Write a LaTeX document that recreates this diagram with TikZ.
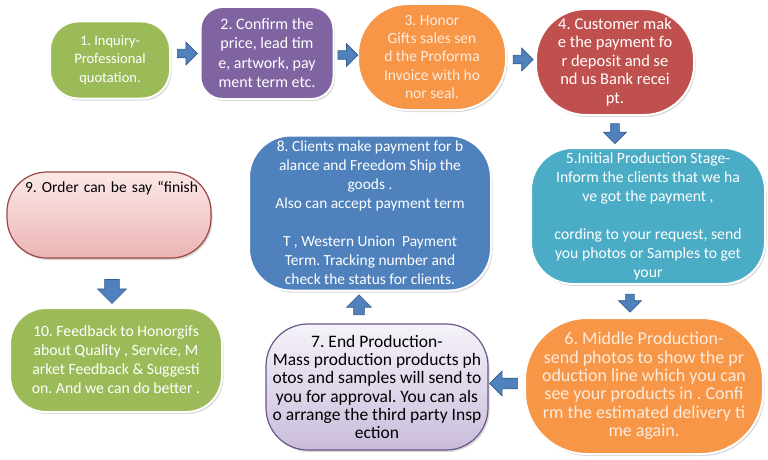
\documentclass[tikz,border=0pt]{standalone}
\usepackage{fontspec}
\setmainfont{Carlito}
\usetikzlibrary{shapes,arrows,positioning,calc,shadows}
\definecolor{stepgreen}{HTML}{9BBB59}
\definecolor{steppurple}{HTML}{8064A2}
\definecolor{steporange}{HTML}{F79646}
\definecolor{steppeach}{HTML}{FDEBDD}
\definecolor{stepred}{HTML}{C0504D}
\definecolor{stepteal}{HTML}{4BACC6}
\definecolor{stepblue}{HTML}{4F81BD}
\definecolor{arrowblue}{HTML}{4F81BD}
\definecolor{arrowedge}{HTML}{385D8A}
\definecolor{lavtop}{HTML}{F6F3FA}
\definecolor{lavbottom}{HTML}{C9BCDB}
\definecolor{lavedge}{HTML}{6A5688}
\definecolor{pinktop}{HTML}{FCE8E8}
\definecolor{pinkbottom}{HTML}{EBB5B4}
\definecolor{pinkedge}{HTML}{9A4644}

\begin{document}
\frenchspacing
\begin{tikzpicture}[x=1pt,y=-1pt,
stepbox/.style={draw=white, line width=2pt, text=white, align=center,
  inner sep=2pt,
  drop shadow={opacity=0.3,shadow xshift=1.5pt,shadow yshift=-2pt}},
flowarrow/.style={single arrow, draw=arrowedge, fill=arrowblue, line width=0.6pt,
  inner sep=4pt, minimum width=15pt, minimum height=20pt}
]
\useasboundingbox (0,0) rectangle (768,460);

% ================= TOP ROW =================
\node[stepbox, fill=stepgreen, rounded corners=28pt,
minimum width=120pt, minimum height=77pt,
font=\fontsize{14.5}{18.3}\selectfont] (n1) at (110,60)
{1. Inquiry-\\Professional\\quotation.};

\node[stepbox, fill=steppurple, rounded corners=22pt,
minimum width=133pt, minimum height=92pt,
font=\fontsize{16}{19.3}\selectfont] (n2) at (267,53)
{2. Confirm the\\price, lead tim\\e, artwork, pay\\ment term etc.};

\node[stepbox, fill=steporange, text=steppeach, rounded corners=50pt,
minimum width=148pt, minimum height=106pt,
font=\fontsize{15.5}{18.3}\selectfont] (n3) at (432,57)
{3. Honor\\Gifts sales sen\\d the Proforma\\Invoice with ho\\nor seal.};

\node[stepbox, fill=stepred, rounded corners=50pt,
minimum width=158pt, minimum height=106pt,
font=\fontsize{16.5}{18.5}\selectfont] (n4) at (615,62)
{4. Customer mak\\e the payment fo\\r deposit and se\\nd us Bank recei\\pt.};

% ================= RIGHT COLUMN =================
\node[stepbox, fill=stepteal, rounded corners=42pt,
minimum width=234pt, minimum height=136pt,
font=\fontsize{15.7}{19}\selectfont] (n5) at (648,216)
{5.Initial Production Stage-\\Inform the clients that we ha\\ve got the payment ,\\\mbox{}\\cording to your request, send\\you photos or Samples to get\\your};

\node[stepbox, fill=steporange, text=steppeach, rounded corners=62pt,
minimum width=238pt, minimum height=136pt,
font=\fontsize{18}{18.3}\selectfont] (n6) at (644,386)
{6. Middle Production-\\send photos to show the pr\\oduction line which you can\\see your products in . Confi\\rm the estimated delivery ti\\me again.};

% ================= MIDDLE COLUMN =================
\node[stepbox, draw=lavedge, line width=1.2pt, text=black,
top color=lavtop, bottom color=lavbottom, rounded corners=42pt,
minimum width=222pt, minimum height=126pt,
font=\fontsize{17.5}{18.3}\selectfont] (n7) at (377,387)
{7. End Production-\\Mass production products ph\\otos and samples will send to\\you for approval. You can als\\o arrange the third party Insp\\ection};

\node[stepbox, fill=stepblue, rounded corners=42pt,
minimum width=242pt, minimum height=155pt,
font=\fontsize{15.4}{19}\selectfont] (n8) at (370,213)
{8. Clients make payment for b\\alance and Freedom Ship the\\goods .\\Also can accept payment term\\\mbox{}\\T , Western Union\ \ Payment\\Term. Tracking number and\\check the status for clients.};

% ================= LEFT COLUMN =================
\node[stepbox, draw=pinkedge, line width=1.2pt, text=black,
top color=pinktop, bottom color=pinkbottom, rounded corners=40pt,
minimum width=204pt, minimum height=86pt, align=left, text width=168pt,
font=\fontsize{15.5}{19}\selectfont] (n9) at (109,215)
{\mbox{9. Order can be say “finish}\\\mbox{}\\\mbox{}\\\mbox{}};

\node[stepbox, fill=stepgreen, rounded corners=36pt,
minimum width=212pt, minimum height=104pt,
font=\fontsize{15.7}{19}\selectfont] (n10) at (116,360)
{10. Feedback to Honorgifs\\about Quality , Service, M\\arket Feedback \& Suggesti\\on. And we can do better .};

% ================= BLOCK ARROWS =================
\node[flowarrow] (a12) at ($(n1.east)!0.5!(n2.west)+(0,-3)$) {};
\node[flowarrow] (a23) at ($(n2.east)!0.5!(n3.west)$) {};
\node[flowarrow] (a34) at ($(n3.east)!0.5!(n4.west)$) {};
\node[flowarrow, shape border rotate=270] (a45)
  at ($(n4.south)!0.5!(n4.south|-n5.north)$) {};
\node[flowarrow, shape border rotate=270, minimum width=14pt, minimum height=18pt] (a56)
  at ($(n5.south)!0.5!(n5.south|-n6.north)+(-18,0)$) {};
\node[flowarrow, shape border rotate=180, inner sep=5pt,
  minimum width=21pt, minimum height=28pt] (a67) at ($(n6.west)!0.5!(n7.east)+(0,-3)$) {};
\node[flowarrow, shape border rotate=90, inner sep=5pt,
  minimum width=21pt, minimum height=20pt] (a78) at ($(n7.north)!0.5!(n7.north|-n8.south)+(-18,0)$) {};
\node[flowarrow, shape border rotate=270, inner sep=7pt,
  minimum width=29pt, minimum height=24pt] (a910) at ($(n9.south)!0.5!(n9.south|-n10.north)+(3,5)$) {};

\end{tikzpicture}
\end{document}
